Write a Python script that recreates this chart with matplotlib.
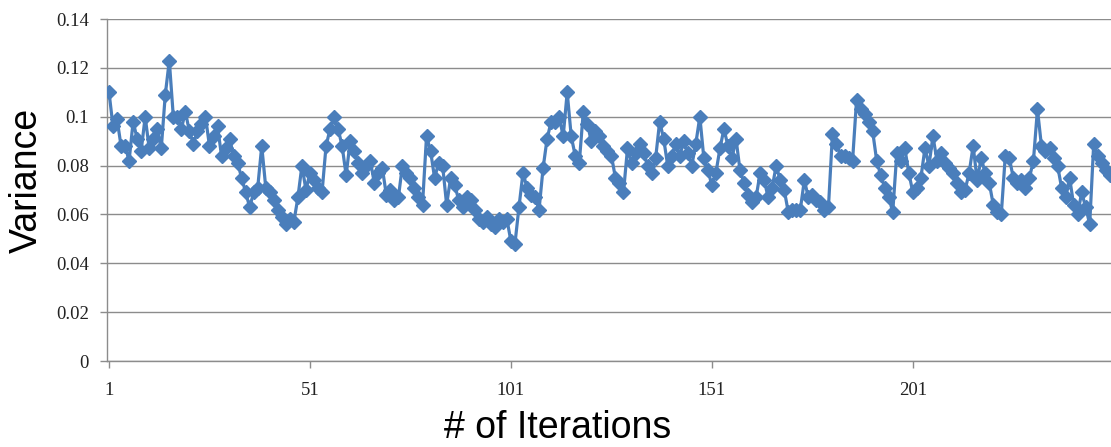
import matplotlib
matplotlib.use("Agg")
import matplotlib.pyplot as plt
import numpy as np

variance = [
    0.110, 0.096, 0.099, 0.088, 0.088, 0.082, 0.098, 0.091, 0.086, 0.100,
    0.087, 0.091, 0.095, 0.087, 0.109, 0.123, 0.100, 0.100, 0.095, 0.102,
    0.094, 0.089, 0.094, 0.097, 0.100, 0.088, 0.092, 0.096, 0.084, 0.087,
    0.091, 0.084, 0.081, 0.075, 0.069, 0.063, 0.069, 0.071, 0.088, 0.071,
    0.069, 0.066, 0.062, 0.059, 0.056, 0.058, 0.057, 0.067, 0.080, 0.070,
    0.077, 0.074, 0.071, 0.069, 0.088, 0.095, 0.100, 0.095, 0.088, 0.076,
    0.090, 0.086, 0.081, 0.077, 0.080, 0.082, 0.073, 0.077, 0.079, 0.068,
    0.070, 0.066, 0.067, 0.080, 0.077, 0.075, 0.071, 0.067, 0.064, 0.092,
    0.086, 0.075, 0.081, 0.080, 0.064, 0.075, 0.072, 0.066, 0.063, 0.067,
    0.066, 0.062, 0.058, 0.057, 0.059, 0.056, 0.055, 0.058, 0.057, 0.058,
    0.049, 0.048, 0.063, 0.077, 0.071, 0.068, 0.067, 0.062, 0.079, 0.091,
    0.098, 0.098, 0.100, 0.092, 0.110, 0.092, 0.084, 0.081, 0.102, 0.097,
    0.090, 0.094, 0.092, 0.088, 0.086, 0.084, 0.075, 0.073, 0.069, 0.087,
    0.081, 0.085, 0.089, 0.085, 0.080, 0.077, 0.083, 0.098, 0.091, 0.080,
    0.084, 0.089, 0.084, 0.090, 0.085, 0.080, 0.089, 0.100, 0.083, 0.078,
    0.072, 0.077, 0.087, 0.095, 0.088, 0.083, 0.091, 0.078, 0.073, 0.068,
    0.065, 0.067, 0.077, 0.074, 0.067, 0.071, 0.080, 0.074, 0.070, 0.061,
    0.062, 0.062, 0.062, 0.074, 0.067, 0.068, 0.066, 0.065, 0.062, 0.063,
    0.093, 0.089, 0.084, 0.084, 0.083, 0.082, 0.107, 0.103, 0.101, 0.098,
    0.094, 0.082, 0.076, 0.071, 0.067, 0.061, 0.085, 0.082, 0.087, 0.077,
    0.069, 0.071, 0.075, 0.087, 0.080, 0.092, 0.082, 0.085, 0.081, 0.079,
    0.077, 0.073, 0.069, 0.070, 0.077, 0.088, 0.074, 0.083, 0.077, 0.073,
    0.064, 0.061, 0.060, 0.084, 0.083, 0.075, 0.073, 0.074, 0.071, 0.075,
    0.082, 0.103, 0.088, 0.086, 0.087, 0.083, 0.080, 0.071, 0.067, 0.075,
    0.064, 0.060, 0.069, 0.063, 0.056, 0.089, 0.084, 0.081, 0.078, 0.076,
]
iterations = list(range(1, len(variance) + 1))
x_tick_labels = ["1", "51", "101", "151", "201"]
y_ticks = [0, 0.02, 0.04, 0.06, 0.08, 0.1, 0.12, 0.14]
y_tick_labels = ["0", "0.02", "0.04", "0.06", "0.08", "0.1", "0.12", "0.14"]

W, H = 1111, 447
fig = plt.figure(figsize=(W / 100, H / 100), dpi=100)
left, right, top, bottom = 107, 1111, 19, 361
ax = fig.add_axes([left / W, 1 - bottom / H, (right - left) / W, (bottom - top) / H])

blue = "#4A7EBB"
ax.plot(iterations, variance, color=blue, linewidth=2.3, marker="D",
        markersize=7.5, markerfacecolor=blue, markeredgecolor=blue, zorder=3,
        clip_on=True)

ax.set_xlim(0.5, 250.3)
ax.set_ylim(0, 0.14)
ax.set_yticks(y_ticks)
ax.set_yticklabels(y_tick_labels)
ax.set_xticks([int(t) for t in x_tick_labels])
ax.set_xticklabels(x_tick_labels)

grid_color = "#8C8C8C"
ax.grid(axis="y", color=grid_color, linewidth=1.0)
ax.set_axisbelow(True)
for s in ["top", "right"]:
    ax.spines[s].set_visible(False)
for s in ["left", "bottom"]:
    ax.spines[s].set_color(grid_color)
    ax.spines[s].set_linewidth(1.0)

ax.tick_params(axis="both", direction="out", color=grid_color, length=5, width=1)
ax.tick_params(axis="y", pad=8)
ax.tick_params(axis="x", pad=10)
for lab in ax.get_xticklabels() + ax.get_yticklabels():
    lab.set_fontfamily("Liberation Serif")
    lab.set_fontsize(13.5)
    lab.set_color("#222222")

fig.text(27 / W, 1 - 180 / H, "Variance", rotation=90, ha="center", va="center",
         family="Liberation Sans", fontsize=27)
fig.text(558 / W, 1 - 428 / H, "# of Iterations", ha="center", va="center",
         family="Liberation Sans", fontsize=27)

fig.savefig("out.png", dpi=100)
